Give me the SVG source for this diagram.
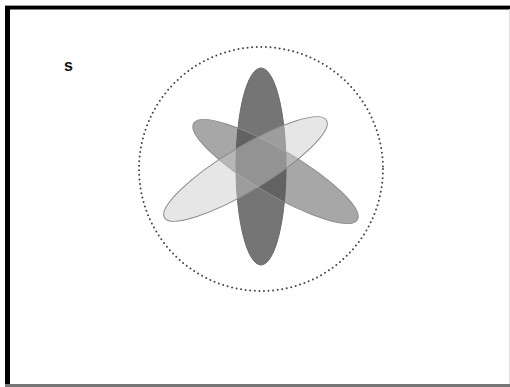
<svg xmlns="http://www.w3.org/2000/svg" width="510" height="387" viewBox="0 0 510 387">
<style>
.lbl{font-family:"Liberation Sans",Arial,sans-serif;font-weight:bold;font-size:16px;fill:#111}
.orbit{fill:none;stroke:#444;stroke-width:2;stroke-dasharray:0 4.6;stroke-linecap:round}
.e{stroke:#8a8a8a;stroke-width:1}
</style>
<rect x="0" y="0" width="510" height="387" fill="#fff"/>
<g id="frame">
<rect x="5" y="6" width="5" height="381" fill="#000"/>
<rect x="5" y="6" width="505" height="3.5" fill="#000"/>
<rect x="5" y="5" width="505" height="1" fill="#999"/>
<rect x="5" y="384" width="505" height="3" fill="#777"/>
<rect x="509" y="9" width="1" height="375" fill="#ddd"/>
</g>
<g id="label-s"><text class="lbl" x="64" y="71">s</text></g>
<g id="orbit"><circle class="orbit" cx="261" cy="169" r="122"/></g>
<g id="ellipse-vertical"><ellipse cx="261" cy="166.5" rx="25" ry="98.5" fill="#757575" stroke="#6a6a6a" stroke-width="1"/></g>
<g id="ellipse-descending"><ellipse class="e" cx="275.5" cy="171.5" rx="95" ry="22.5" fill="#505050" fill-opacity="0.5" transform="rotate(30.5 275.5 171.5)"/></g>
<g id="ellipse-ascending"><ellipse class="e" cx="245.5" cy="169" rx="94.5" ry="22" fill="#cacaca" fill-opacity="0.47" transform="rotate(-31 245.5 169)"/></g>
</svg>
